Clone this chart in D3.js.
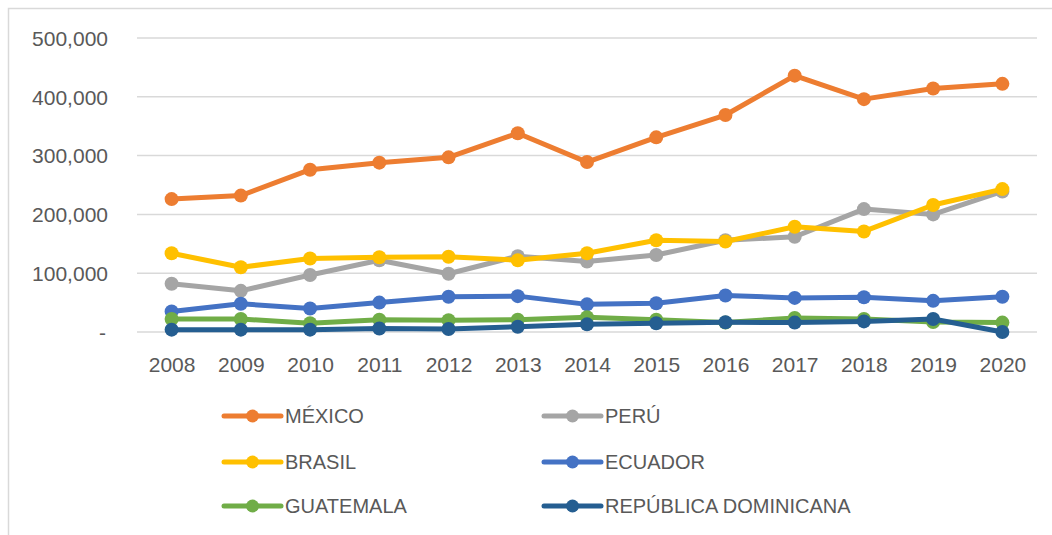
<!DOCTYPE html>
<html><head><meta charset="utf-8">
<script src="https://cdn.jsdelivr.net/npm/d3@7"></script>
<style>body{margin:0;background:#fff}svg{display:block}text{font-family:"Liberation Sans",Arial,sans-serif;fill:#595959}</style>
</head><body><svg id="c" width="1052" height="535"></svg>
<script>
const years = ["2008","2009","2010","2011","2012","2013","2014","2015","2016","2017","2018","2019","2020"];
const yTicks = [0,100000,200000,300000,400000,500000];
const seriesNames = ["MÉXICO","PERÚ","BRASIL","ECUADOR","GUATEMALA","REPÚBLICA DOMINICANA"];
const mexico = [226000,232000,276000,288000,297000,338000,289000,331000,369000,436000,396000,414000,422000];
const peru = [82000,70000,97000,122000,99000,129000,120000,131000,156000,162000,209000,200000,239000];
const brasil = [134000,110000,125000,127000,128000,122000,134000,156000,154000,179000,171000,216000,243000];
const ecuador = [35000,48000,40000,50000,60000,61000,47000,49000,62000,58000,59000,53000,60000];
const guatemala = [22000,22000,15000,21000,20000,21000,25000,21000,16000,24000,22000,17000,16000];
const repDom = [4000,4000,4000,6000,5000,9000,13000,15000,16500,16000,18000,22000,0];
const colors = ["#ED7D31","#A5A5A5","#FFC000","#4472C4","#70AD47","#255E91"];
const seriesValues = [mexico,peru,brasil,ecuador,guatemala,repDom];

const svg = d3.select("#c");
svg.append("rect").attr("x",8.5).attr("y",8.5).attr("width",1100).attr("height",600)
  .attr("fill","none").attr("stroke","#d9d9d9").attr("stroke-width",1.5);

const x = d3.scalePoint().domain(years).range([137,1037]).padding(0.5);
const y = d3.scaleLinear().domain([0,500000]).range([332,38]);

svg.append("g").selectAll("line").data(yTicks).join("line")
  .attr("x1",137).attr("x2",1037).attr("y1",d=>y(d)).attr("y2",d=>y(d))
  .attr("stroke","#d9d9d9").attr("stroke-width",1.5);

const yAxis = d3.axisLeft(y).tickValues(yTicks).tickSize(0).tickPadding(0)
  .tickFormat(d=> d===0 ? "-" : d3.format(",")(d));
const ya = svg.append("g").attr("transform","translate(108,0)").call(yAxis);
ya.select(".domain").remove();
ya.selectAll("text").attr("font-size","21px").attr("fill","#595959")
  .attr("font-family","Liberation Sans, Arial, sans-serif").attr("dy","0.35em").attr("dx",d=>d===0?-2:0);

const xAxis = d3.axisBottom(x).tickSize(0).tickPadding(0);
const xa = svg.append("g").attr("transform","translate(0,357)").call(xAxis);
xa.select(".domain").remove();
xa.selectAll("text").attr("font-size","21px").attr("fill","#595959")
  .attr("font-family","Liberation Sans, Arial, sans-serif").attr("dy","0.72em");

const line = d3.line().x((d,i)=>x(years[i])).y(d=>y(d));
seriesValues.forEach((vals,si)=>{
  const g = svg.append("g");
  g.append("path").datum(vals).attr("d",line).attr("fill","none")
    .attr("stroke",colors[si]).attr("stroke-width",5).attr("stroke-linejoin","round");
  g.selectAll("circle").data(vals).join("circle")
    .attr("cx",(d,i)=>x(years[i])).attr("cy",d=>y(d)).attr("r",7).attr("fill",colors[si]);
});

const legX = [224,544], legY = [416,462,506];
seriesNames.forEach((name,i)=>{
  const lx = legX[i%2], ly = legY[Math.floor(i/2)];
  const g = svg.append("g").attr("transform",`translate(${lx},${ly})`);
  g.append("line").attr("x1",0).attr("x2",57).attr("y1",0).attr("y2",0)
    .attr("stroke",colors[i]).attr("stroke-width",5).attr("stroke-linecap","round");
  g.append("circle").attr("cx",28.5).attr("cy",0).attr("r",6.5).attr("fill",colors[i]);
  g.append("text").attr("x",61).attr("y",0).attr("dy","0.36em").attr("font-size","20px").text(name);
});
</script></body></html>
